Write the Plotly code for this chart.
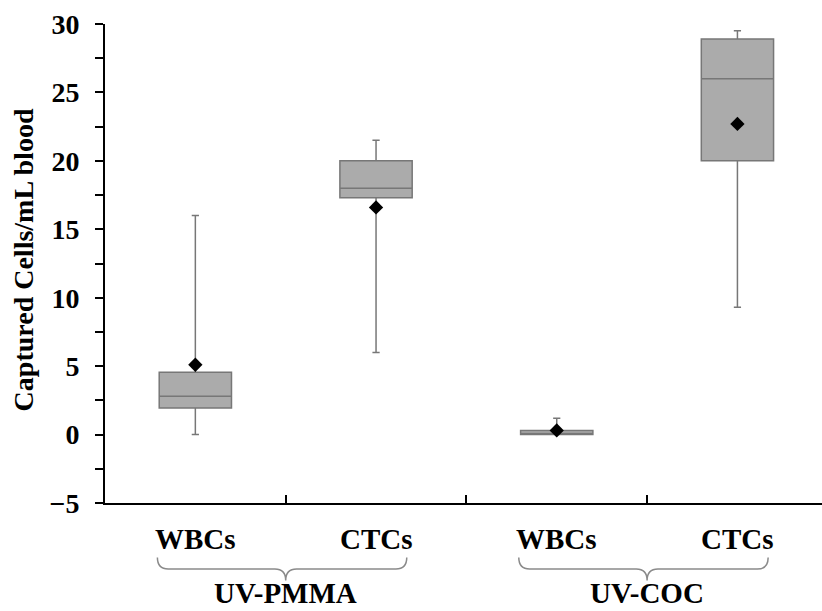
import plotly.graph_objects as go

# Capture results per device / cell type
groups = ["UV-PMMA", "UV-COC"]
cell_types = ["WBCs", "CTCs", "WBCs", "CTCs"]
positions = [1, 2, 3, 4]
q1 = [1.95, 17.3, 0.0, 20.0]
median = [2.8, 18.0, 0.0, 26.0]
q3 = [4.55, 20.0, 0.3, 28.9]
lower_whisker = [0.0, 6.0, 0.0, 9.3]
upper_whisker = [16.0, 21.5, 1.2, 29.5]
means = [5.1, 16.6, 0.3, 22.7]
y_ticks = [-5, 0, 5, 10, 15, 20, 25, 30]

FONT = "Liberation Serif"
BOX_FILL = "#ababab"
BOX_LINE = "#777777"

fig = go.Figure()

fig.add_trace(go.Box(
    x=positions,
    q1=q1, median=median, q3=q3,
    lowerfence=lower_whisker, upperfence=upper_whisker,
    width=0.4,
    whiskerwidth=0.1,
    fillcolor=BOX_FILL,
    line=dict(color=BOX_LINE, width=1.5),
    boxpoints=False,
    showlegend=False,
    hoverinfo="skip",
))

fig.add_trace(go.Scatter(
    x=positions, y=means,
    mode="markers",
    marker=dict(symbol="diamond", size=11, color="black"),
    showlegend=False,
    hoverinfo="skip",
))

# Category labels under each box
annotations = []
for xpos, name in zip(positions, cell_types):
    annotations.append(dict(
        x=xpos, xref="x", y=-0.075, yref="paper",
        text=f"<b>{name}</b>", showarrow=False,
        font=dict(family=FONT, size=29, color="black"),
        xanchor="center", yanchor="middle",
    ))

# Group labels with braces spanning each pair
shapes = []
y_top, y_mid, y_tip = -0.114, -0.138, -0.162
r = 0.06
for gi, gname in enumerate(groups):
    left = positions[2 * gi] - 0.21
    right = positions[2 * gi + 1] + 0.17
    c = (positions[2 * gi] + positions[2 * gi + 1]) / 2
    path = (
        f"M {left},{y_top} Q {left},{y_mid} {left + r},{y_mid} "
        f"L {c - r},{y_mid} Q {c},{y_mid} {c},{y_tip} "
        f"Q {c},{y_mid} {c + r},{y_mid} "
        f"L {right - r},{y_mid} Q {right},{y_mid} {right},{y_top}"
    )
    shapes.append(dict(type="path", path=path, xref="x", yref="paper",
                       line=dict(color="#8a8a8a", width=1.5)))
    annotations.append(dict(
        x=c, xref="x", y=-0.2262, yref="paper",
        text=f"<b>{gname}</b>", showarrow=False,
        font=dict(family=FONT, size=29, color="black"),
        xanchor="center", yanchor="bottom",
    ))

# Y axis title
annotations.append(dict(
    x=-0.114, xref="paper", y=0.507, yref="paper",
    text="<b>Captured Cells/mL blood</b>", showarrow=False, textangle=-90,
    font=dict(family=FONT, size=28, color="black"),
    xanchor="center", yanchor="middle",
))

fig.update_layout(
    width=822, height=611,
    margin=dict(l=105, r=0, t=24, b=108),
    plot_bgcolor="white", paper_bgcolor="white",
    annotations=annotations,
    shapes=shapes,
    xaxis=dict(
        range=[0.5, 4.468],
        tickvals=[1.5, 2.5, 3.5],
        ticktext=["", "", ""],
        ticks="inside", ticklen=8, tickwidth=1.5, tickcolor="black",
        showline=True, linecolor="black", linewidth=2,
        showgrid=False, zeroline=False,
    ),
    yaxis=dict(
        range=[-5, 30],
        tickvals=y_ticks,
        ticks="outside", ticklen=8, tickwidth=1.5, tickcolor="black",
        minor=dict(dtick=2.5, tick0=0, ticks="outside", ticklen=8,
                   tickwidth=1.5, tickcolor="black", showgrid=False),
        showline=True, linecolor="black", linewidth=2,
        showgrid=False, zeroline=False,
        tickfont=dict(family=FONT, size=28, color="black", weight="bold"),
        ticklabelstandoff=10,
    ),
)

fig.write_html("out.html")
